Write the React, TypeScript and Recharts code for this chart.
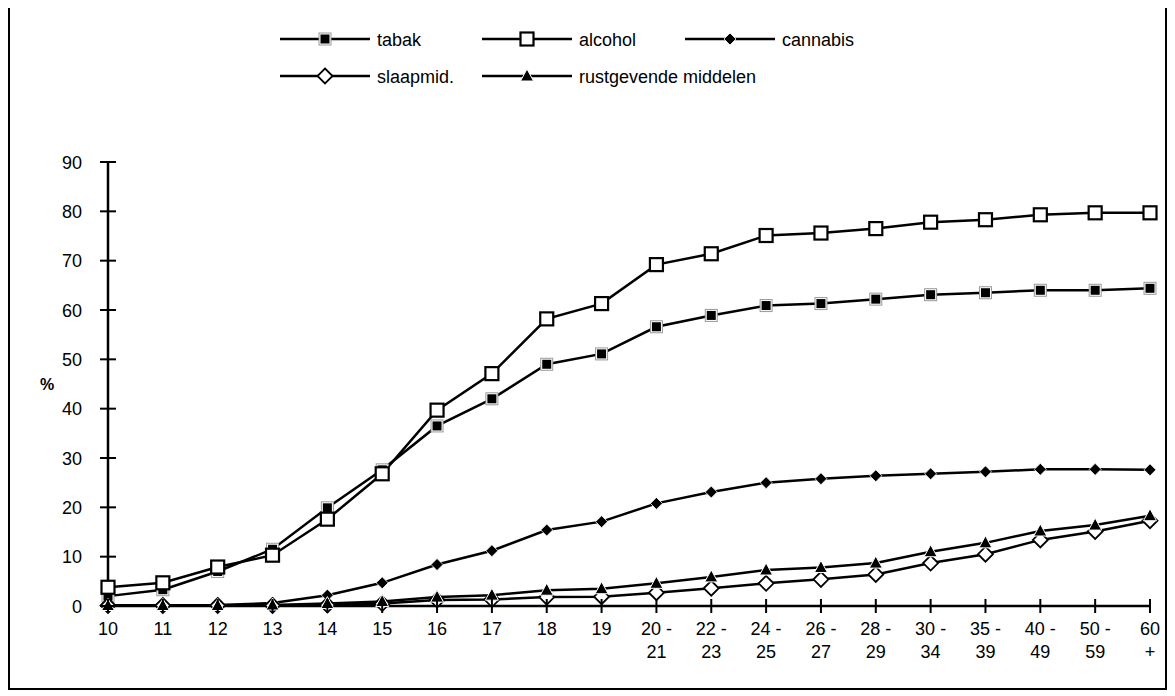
import React from 'react';
import { LineChart, Line, XAxis, YAxis, Legend } from 'recharts';

const ages = [
  '10', '11', '12', '13', '14', '15', '16', '17', '18', '19',
  '20 - 21', '22 - 23', '24 - 25', '26 - 27', '28 - 29',
  '30 - 34', '35 - 39', '40 - 49', '50 - 59', '60 +',
];

const tabak = [2.0, 3.3, 7.0, 11.5, 19.9, 27.6, 36.5, 42.0, 49.0, 51.1, 56.6, 58.9, 60.9, 61.3, 62.2, 63.1, 63.5, 64.0, 64.0, 64.4];
const alcohol = [3.8, 4.7, 7.9, 10.3, 17.6, 26.8, 39.7, 47.1, 58.2, 61.3, 69.2, 71.4, 75.1, 75.6, 76.5, 77.8, 78.3, 79.3, 79.7, 79.7];
const cannabis = [0.1, 0.1, 0.2, 0.6, 2.2, 4.7, 8.4, 11.2, 15.4, 17.1, 20.8, 23.1, 25.0, 25.8, 26.4, 26.8, 27.2, 27.7, 27.7, 27.6];
const slaapmid = [0.1, 0.1, 0.1, 0.1, 0.2, 0.5, 1.2, 1.3, 1.8, 1.9, 2.7, 3.6, 4.6, 5.4, 6.4, 8.7, 10.5, 13.4, 15.1, 17.3];
const rustgevend = [0.1, 0.1, 0.1, 0.2, 0.5, 0.9, 1.8, 2.2, 3.2, 3.5, 4.6, 5.9, 7.3, 7.8, 8.7, 11.0, 12.8, 15.2, 16.4, 18.3];

const yTicks = [0, 10, 20, 30, 40, 50, 60, 70, 80, 90];

const data = ages.map((age, i) => ({
  age,
  tabak: tabak[i],
  alcohol: alcohol[i],
  cannabis: cannabis[i],
  slaapmid: slaapmid[i],
  rustgevend: rustgevend[i],
}));

const FONT = '"Liberation Sans", Arial, sans-serif';

type Shape = 'filledSquare' | 'openSquare' | 'filledDiamond' | 'openDiamond' | 'triangle';

function marker(shape: Shape, cx: number, cy: number, key?: any) {
  switch (shape) {
    case 'filledSquare':
      return (
        <g key={key}>
          <rect x={cx - 6} y={cy - 6} width={12} height={12} fill="#fff" stroke="#999" strokeWidth={1} />
          <rect x={cx - 4.5} y={cy - 4.5} width={9} height={9} fill="#000" />
        </g>
      );
    case 'openSquare':
      return <rect key={key} x={cx - 6.5} y={cy - 6.5} width={13} height={13} fill="#fff" stroke="#000" strokeWidth={2.2} />;
    case 'filledDiamond':
      return <polygon key={key} points={`${cx},${cy - 6} ${cx + 6},${cy} ${cx},${cy + 6} ${cx - 6},${cy}`} fill="#000" stroke="#fff" strokeWidth={0.8} />;
    case 'openDiamond':
      return <polygon key={key} points={`${cx},${cy - 7.5} ${cx + 7.5},${cy} ${cx},${cy + 7.5} ${cx - 7.5},${cy}`} fill="#fff" stroke="#000" strokeWidth={1.8} />;
    default:
      return <polygon key={key} points={`${cx},${cy - 7} ${cx + 6.5},${cy + 5} ${cx - 6.5},${cy + 5}`} fill="#000" stroke="#fff" strokeWidth={1} />;
  }
}

const dotOf = (shape: Shape) => (p: any) => marker(shape, p.cx, p.cy, p.key ?? p.index);

const legendItems: { label: string; shape: Shape; x: number; row: number }[] = [
  { label: 'tabak', shape: 'filledSquare', x: 272, row: 0 },
  { label: 'alcohol', shape: 'openSquare', x: 474, row: 0 },
  { label: 'cannabis', shape: 'filledDiamond', x: 677, row: 0 },
  { label: 'slaapmid.', shape: 'openDiamond', x: 272, row: 1 },
  { label: 'rustgevende middelen', shape: 'triangle', x: 474, row: 1 },
];

function LegendBox() {
  return (
    <svg width={1159} height={110} style={{ display: 'block' }}>
      {legendItems.map((it) => {
        const y = 33 + it.row * 37;
        return (
          <g key={it.label}>
            <line x1={it.x} x2={it.x + 90} y1={y} y2={y} stroke="#000" strokeWidth={2.5} />
            {marker(it.shape, it.x + 45, y)}
            <text x={it.x + 97} y={y + 6.5} fontSize={18} fontFamily={FONT} fill="#000">{it.label}</text>
          </g>
        );
      })}
    </svg>
  );
}

function XTick({ x, y, payload }: any) {
  const v: string = payload.value;
  let lines = [v];
  if (v.includes(' - ')) {
    const [a, b] = v.split(' - ');
    lines = [a + ' -', b];
  } else if (v.includes(' +')) {
    lines = [v.replace(' +', ''), '+'];
  }
  return (
    <g>
      <line x1={x} x2={x} y1={y - 7} y2={y + 7} stroke="#000" strokeWidth={2} />
      {lines.map((l, i) => (
        <text key={i} x={x} y={y + 29 + i * 23} textAnchor="middle" fontSize={18} fontFamily={FONT} fill="#000">{l}</text>
      ))}
    </g>
  );
}

function YTick({ x, y, payload }: any) {
  return (
    <g>
      <line x1={x - 8} x2={x + 8} y1={y} y2={y} stroke="#000" strokeWidth={2} />
      <text x={x - 26} y={y + 6.5} textAnchor="end" fontSize={18} fontFamily={FONT} fill="#000">{payload.value}</text>
    </g>
  );
}

export default function App() {
  return (
    <div style={{ position: 'relative', width: 1159, height: 684, marginTop: -2, background: '#fff' }}>
      <LineChart
        width={1159}
        height={684}
        data={data}
        margin={{ top: 156, right: 17, left: 40, bottom: 24 }}
      >
        <XAxis
          dataKey="age"
          interval={0}
          height={60}
          tickSize={0}
          tickMargin={0}
          tickLine={false}
          axisLine={{ stroke: '#000', strokeWidth: 2.5 }}
          tick={<XTick />}
        />
        <YAxis
          domain={[0, 90]}
          ticks={yTicks}
          width={60}
          tickSize={0}
          tickMargin={0}
          tickLine={false}
          axisLine={{ stroke: '#000', strokeWidth: 2.5 }}
          tick={<YTick />}
          label={{ value: '%', position: 'insideLeft', offset: -8, fontSize: 16, fontWeight: 'bold', fontFamily: FONT, fill: '#000' }}
        />
        <Legend
          layout="vertical"
          align="center"
          verticalAlign="middle"
          wrapperStyle={{ top: 0, left: 0, width: 1159, height: 110 }}
          content={() => <LegendBox />}
        />
        <Line dataKey="tabak" stroke="#000" strokeWidth={2.5} dot={dotOf('filledSquare')} isAnimationActive={false} />
        <Line dataKey="alcohol" stroke="#000" strokeWidth={2.5} dot={dotOf('openSquare')} isAnimationActive={false} />
        <Line dataKey="cannabis" stroke="#000" strokeWidth={2.5} dot={dotOf('filledDiamond')} isAnimationActive={false} />
        <Line dataKey="slaapmid" stroke="#000" strokeWidth={2.5} dot={dotOf('openDiamond')} isAnimationActive={false} />
        <Line dataKey="rustgevend" stroke="#000" strokeWidth={2.5} dot={dotOf('triangle')} isAnimationActive={false} />
      </LineChart>
      <div
        style={{
          position: 'absolute',
          left: 0,
          top: 0,
          width: 1159,
          height: 684,
          boxSizing: 'border-box',
          border: '2px solid #000',
          pointerEvents: 'none',
        }}
      />
    </div>
  );
}
